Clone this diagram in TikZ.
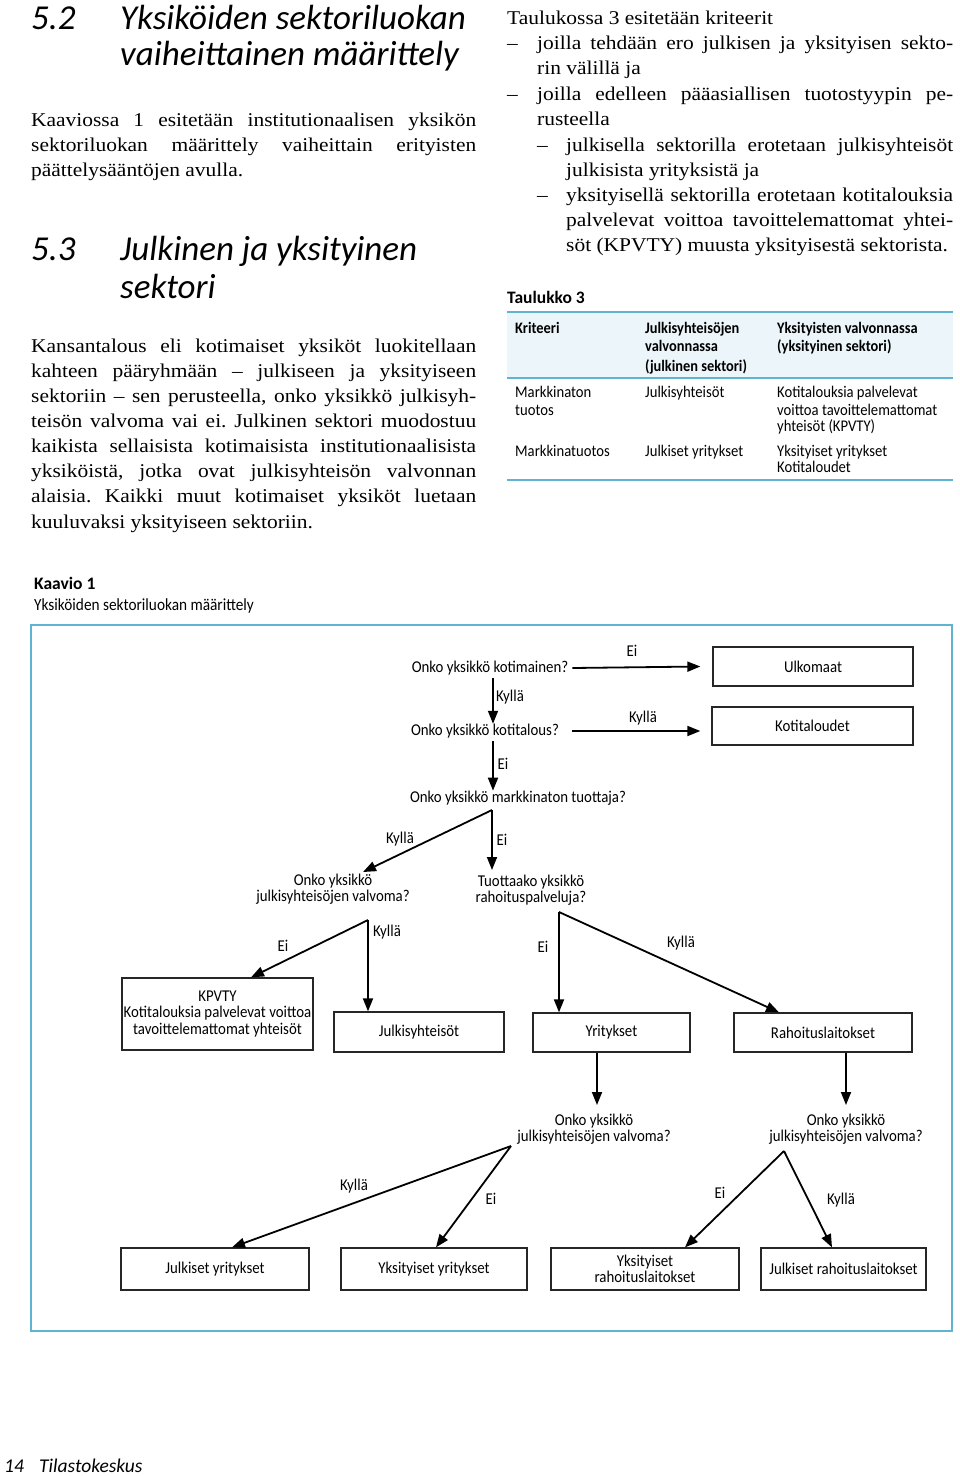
\documentclass[tikz,border=0pt]{standalone}
\usepackage{fontspec}
\setmainfont[FakeStretch=1.1]{Liberation Serif}
\newfontfamily\hsans{Carlito}
\newfontfamily\dsans[FakeStretch=0.9]{Carlito}
\usetikzlibrary{arrows.meta}
\definecolor{frameblue}{RGB}{95,180,210}
\definecolor{headbg}{RGB}{236,246,250}
\frenchspacing
\tikzset{
  body/.style={font=\fontsize{19.5}{25}\selectfont, inner sep=0pt, anchor=base west},
  head/.style={font=\hsans\itshape\fontsize{35}{40}\selectfont, inner sep=0pt, anchor=base west},
  tab/.style={font=\dsans\fontsize{16.3}{17}\selectfont, inner sep=0pt, anchor=base west},
  tabh/.style={font=\dsans\bfseries\fontsize{16}{17}\selectfont, inner sep=0pt, anchor=base west},
  q/.style={font=\dsans\fontsize{16.5}{16.5}\selectfont, inner sep=0pt, align=center},
  lab/.style={font=\dsans\fontsize{16.5}{16.5}\selectfont, inner sep=0pt},
  box/.style={draw=black!85, line width=1.3pt, font=\dsans\fontsize{16.5}{16.5}\selectfont, align=center, inner sep=0pt},
  arr/.style={line width=1.8pt, -{Triangle[length=13pt,width=10pt]}}
}
\begin{document}
\begin{tikzpicture}[x=1pt,y=-1pt]
\useasboundingbox (0,0) rectangle (960,1476);
% ---------------- headings left
\node[head] (h52) at (31,29) {5.2};
\node[head] (h52a) at (120,29) {Yksiköiden sektoriluokan};
\node[head] (h52b) at (120,65) {vaiheittainen määrittely};
\node[head] (h53) at (31,260) {5.3};
\node[head] (h53a) at (120,260) {Julkinen ja yksityinen};
\node[head] (h53b) at (120,298) {sektori};
% ---------------- paragraph 1
\foreach \t [count=\i] in {{Kaaviossa 1 esitetään institutionaalisen yksikön},{sektoriluokan määrittely vaiheittain erityisten}}
  \node[body] (pa\i) at (31,{126+25*(\i-1)}) {\makebox[445pt][s]{\t}};
\node[body] (pa3) at (31,176) {päättelysääntöjen avulla.};
% ---------------- paragraph 2
\foreach \t [count=\i] in {{Kansantalous eli kotimaiset yksiköt luokitellaan},{kahteen pääryhmään – julkiseen ja yksityiseen},{sektoriin – sen perusteella, onko yksikkö julkisyh-},{teisön valvoma vai ei. Julkinen sektori muodostuu},{kaikista sellaisista kotimaisista institutionaalisista},{yksiköistä, jotka ovat julkisyhteisön valvonnan},{alaisia. Kaikki muut kotimaiset yksiköt luetaan}}
  \node[body] (pb\i) at (31,{352+25.1*(\i-1)}) {\makebox[445pt][s]{\t}};
\node[body] (pb8) at (31,528) {kuuluvaksi yksityiseen sektoriin.};
% ---------------- right column
\node[body] (r1) at (507,24) {Taulukossa 3 esitetään kriteerit};
\node[body] (d1) at (507,49) {–};
\node[body] (r2) at (537,49) {\makebox[416pt][s]{joilla tehdään ero julkisen ja yksityisen sekto-}};
\node[body] (r3) at (537,74) {rin välillä ja};
\node[body] (d2) at (507,100) {–};
\node[body] (r4) at (537,100) {\makebox[416pt][s]{joilla edelleen pääasiallisen tuotostyypin pe-}};
\node[body] (r5) at (537,125) {rusteella};
\node[body] (d3) at (537,151) {–};
\node[body] (r6) at (566,151) {\makebox[387pt][s]{julkisella sektorilla erotetaan julkisyhteisöt}};
\node[body] (r7) at (566,176) {julkisista yrityksistä ja};
\node[body] (d4) at (537,201) {–};
\node[body] (r8) at (566,201) {\makebox[387pt][s]{yksityisellä sektorilla erotetaan kotitalouksia}};
\node[body] (r9) at (566,226) {\makebox[387pt][s]{palvelevat voittoa tavoittelemattomat yhtei-}};
\node[body] (r10) at (566,251) {söt (KPVTY) muusta yksityisestä sektorista.};
% ---------------- table
\node[tabh, font=\hsans\bfseries\fontsize{17.5}{19}\selectfont] (tt) at (507,303) {Taulukko 3};
\fill[headbg] (507,312) rectangle (953,378);
\draw[frameblue, line width=1.2pt] (507,312) -- (953,312);
\draw[frameblue, line width=1.2pt] (507,378) -- (953,378);
\draw[frameblue, line width=1.2pt] (507,480) -- (953,480);
\node[tabh] (th1) at (515,333) {Kriteeri};
\node[tabh] (th2) at (645,333) {Julkisyhteisöjen};
\node[tabh] (th3) at (645,351) {valvonnassa};
\node[tabh] (th4) at (645,371) {(julkinen sektori)};
\node[tabh] (th5) at (777,333) {Yksityisten valvonnassa};
\node[tabh] (th6) at (777,351) {(yksityinen sektori)};
\node[tab] (tc1) at (515,397) {Markkinaton};
\node[tab] (tc2) at (515,415) {tuotos};
\node[tab] (tc3) at (645,397) {Julkisyhteisöt};
\node[tab] (tc4) at (777,397) {Kotitalouksia palvelevat};
\node[tab] (tc5) at (777,415) {voittoa tavoittelemattomat};
\node[tab] (tc6) at (777,431) {yhteisöt (KPVTY)};
\node[tab] (tc7) at (515,456) {Markkinatuotos};
\node[tab] (tc8) at (645,456) {Julkiset yritykset};
\node[tab] (tc9) at (777,456) {Yksityiset yritykset};
\node[tab] (tc10) at (777,472) {Kotitaloudet};
% ---------------- Kaavio title
\node[tabh, font=\hsans\bfseries\fontsize{17.5}{19}\selectfont] (k1) at (34,589) {Kaavio 1};
\node[tab, font=\dsans\fontsize{17}{18}\selectfont] (k2) at (34,610) {Yksiköiden sektoriluokan määrittely};
\draw[frameblue, line width=1.5pt] (31,625) rectangle (952,1331);
% ---------------- diagram nodes
\node[q] (q1) at (490,668) {Onko yksikkö kotimainen?};
\node[q] (q2) at (485,731) {Onko yksikkö kotitalous?};
\node[q] (q3) at (518,798) {Onko yksikkö markkinaton tuottaja?};
\node[q] (q4) at (333,889) {Onko yksikkö\\julkisyhteisöjen valvoma?};
\node[q] (q5) at (531,890) {Tuottaako yksikkö\\rahoituspalveluja?};
\node[q] (q6) at (594,1129) {Onko yksikkö\\julkisyhteisöjen valvoma?};
\node[q] (q7) at (846,1129) {Onko yksikkö\\julkisyhteisöjen valvoma?};
\node[box, minimum width=200pt, minimum height=39pt] (ulk) at (813,666.5) {Ulkomaat};
\node[box, minimum width=201pt, minimum height=38pt] (koti) at (812.5,726) {Kotitaloudet};
\node[box, minimum width=191pt, minimum height=72pt] (kpvty) at (217.5,1014) {KPVTY\\Kotitalouksia palvelevat voittoa\\tavoittelemattomat yhteisöt};
\node[box, minimum width=170pt, minimum height=40pt] (jy) at (419,1032) {Julkisyhteisöt};
\node[box, minimum width=157pt, minimum height=39pt] (yr) at (611.5,1032.5) {Yritykset};
\node[box, minimum width=178pt, minimum height=39pt] (rl) at (823,1032.5) {Rahoituslaitokset};
\node[box, minimum width=188pt, minimum height=42pt] (b1) at (215,1269) {Julkiset yritykset};
\node[box, minimum width=186pt, minimum height=42pt] (b2) at (434,1269) {Yksityiset yritykset};
\node[box, minimum width=188pt, minimum height=42pt] (b3) at (645,1269) {Yksityiset\\rahoituslaitokset};
\node[box, minimum width=165pt, minimum height=42pt] (b4) at (843.5,1269) {Julkiset rahoituslaitokset};
% ---------------- split / tip coordinates
\coordinate (s1) at (493,678);
\coordinate (s2) at (493,741);
\coordinate (s3) at (492,810);
\coordinate (s4) at (368,920);
\coordinate (s5) at (559,912);
\coordinate (s6) at (511,1146);
\coordinate (s7) at (784,1151);
\coordinate (e3a) at (363,872);
\coordinate (e3b) at (492,870);
\coordinate (c6) at (597,1105);
\coordinate (c7) at (846,1105);
% ---------------- connectors
\draw[arr] ([xshift=4pt]q1.east) -- ([xshift=-12pt]ulk.west);
\draw[arr] (q2.east -| 572,0) -- ([xshift=-11pt]koti.west |- q2.east);
\draw[arr] (s1) -- (q2.north -| s1);
\draw[arr] (s2) -- (q3.north -| s2);
\draw[arr] (s3) -- (e3a);
\draw[arr] (s3) -- (e3b);
\draw[arr] (s4) -- (kpvty.north -| 251,0);
\draw[arr] (s4) -- (jy.north -| s4);
\draw[arr] (s5) -- (yr.north -| s5);
\draw[arr] (s5) -- (rl.north -| 779,0);
\draw[arr] (yr.south -| c6) -- (c6);
\draw[arr] (rl.south -| c7) -- (c7);
\draw[arr] (s6) -- (b1.north -| 232,0);
\draw[arr] (s6) -- (b2.north -| 436,0);
\draw[arr] (s7) -- (b3.north -| 685,0);
\draw[arr] (s7) -- (b4.north -| 832,0);
% ---------------- labels
\node[lab] (l1) at (632,651) {Ei};
\node[lab] (l2) at (643,718) {Kyllä};
\node[lab] (l3) at (510,697) {Kyllä};
\node[lab] (l4) at (503,764) {Ei};
\node[lab] (l5) at (400,839) {Kyllä};
\node[lab] (l6) at (502,840) {Ei};
\node[lab] (l7) at (283,946) {Ei};
\node[lab] (l8) at (387,932) {Kyllä};
\node[lab] (l9) at (543,947) {Ei};
\node[lab] (l10) at (681,943) {Kyllä};
\node[lab] (l11) at (354,1186) {Kyllä};
\node[lab] (l12) at (491,1199) {Ei};
\node[lab] (l13) at (720,1193) {Ei};
\node[lab] (l14) at (841,1200) {Kyllä};
% ---------------- footer
\node[head, font=\hsans\itshape\fontsize{19.5}{22}\selectfont] (f1) at (4,1472) {14};
\node[head, font=\hsans\itshape\fontsize{19.5}{22}\selectfont] (f2) at (39,1472) {Tilastokeskus};
\end{tikzpicture}
\end{document}
